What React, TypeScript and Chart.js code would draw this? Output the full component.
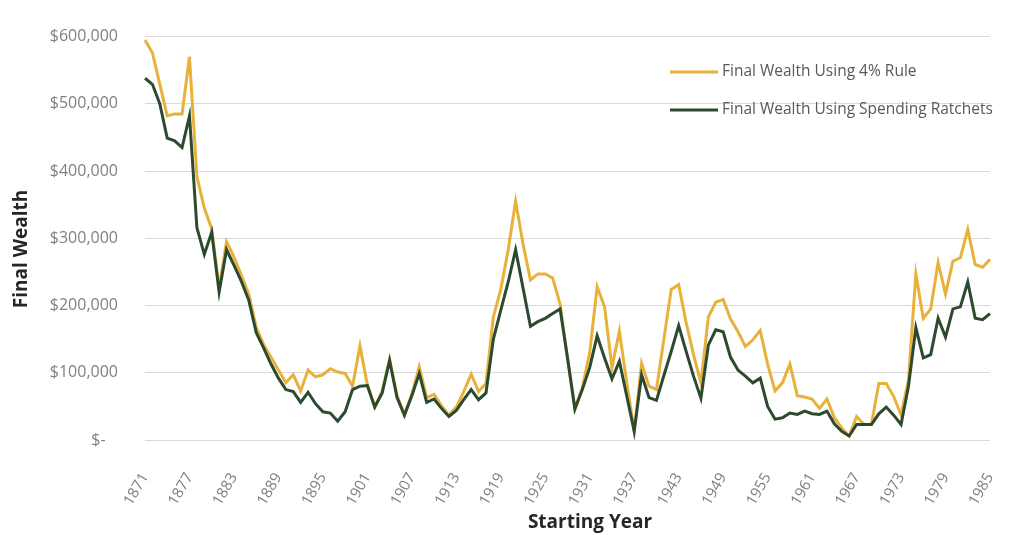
import React, { useEffect, useRef } from 'react';
import { Chart, registerables } from 'chart.js';

Chart.register(...registerables);

// ---------- data ----------
const START_YEAR = 1871;
const END_YEAR = 1985;
const years: string[] = [];
for (let y = START_YEAR; y <= END_YEAR; y++) years.push(String(y));

const xTickLabels = [
  '1871', '1877', '1883', '1889', '1895', '1901', '1907', '1913', '1919', '1925',
  '1931', '1937', '1943', '1949', '1955', '1961', '1967', '1973', '1979', '1985',
];

const yTickValues = [0, 100000, 200000, 300000, 400000, 500000, 600000];

const SERIES_LABELS = ['Final Wealth Using 4% Rule', 'Final Wealth Using Spending Ratchets'];

// final wealth, in thousands of dollars, 1871..1985
const rule4Thousands = [
  595, 576, 529, 482, 485, 485, 570, 392, 345, 314,
  225, 295, 272, 245, 217, 168, 142, 123, 104, 85,
  97, 73, 104, 94, 97, 106, 101, 99, 80, 140,
  82, 49, 73, 120, 66, 37, 68, 109, 63, 68,
  51, 37, 49, 72, 98, 72, 84, 183, 224, 283,
  355, 292, 238, 247, 247, 241, 202, 122, 46, 78,
  130, 228, 198, 108, 162, 85, 13, 114, 80, 75,
  150, 224, 231, 175, 127, 85, 183, 205, 209, 180,
  161, 139, 149, 163, 113, 73, 85, 113, 66, 64,
  61, 47, 61, 33, 18, 6, 35, 23, 23, 84,
  84, 65, 37, 90, 247, 181, 195, 264, 217, 266,
  271, 313, 261, 257, 269,
];

const ratchetThousands = [
  538, 529, 500, 449, 445, 435, 482, 316, 276, 309,
  220, 283, 260, 236, 208, 160, 137, 113, 92, 75,
  72, 56, 71, 54, 42, 40, 28, 42, 75, 80,
  81, 49, 70, 118, 63, 37, 66, 99, 56, 61,
  47, 35, 44, 60, 75, 60, 70, 150, 193, 235,
  283, 226, 169, 176, 181, 188, 195, 122, 46, 75,
  108, 155, 122, 91, 117, 65, 13, 97, 63, 59,
  96, 132, 170, 132, 95, 62, 141, 164, 161, 123,
  104, 95, 85, 92, 50, 31, 33, 40, 38, 43,
  39, 38, 43, 24, 13, 6, 23, 23, 23, 39,
  49, 37, 23, 80, 167, 122, 127, 181, 153, 195,
  198, 235, 181, 179, 188,
];

const GOLD = '#E8B13A';
const GREEN = '#2C4A2F';
const FONT = '"Open Sans", "Noto Sans", sans-serif';

function formatDollar(v: number): string {
  if (v === 0) return '$-   ';
  return '$' + v.toLocaleString('en-US');
}

const annotationsPlugin = {
  id: 'customText',
  afterDraw(chart: any) {
    const ctx = chart.ctx as CanvasRenderingContext2D;
    ctx.save();
    // y axis title
    ctx.fillStyle = '#262626';
    ctx.font = `bold 19px ${FONT}`;
    ctx.textAlign = 'center';
    ctx.textBaseline = 'middle';
    ctx.save();
    ctx.translate(22, 249);
    ctx.rotate(-Math.PI / 2);
    ctx.fillText('Final Wealth', 0, 0);
    ctx.restore();
    // x axis title
    ctx.fillText('Starting Year', 590, 523);

    // legend
    const items = [
      { color: GOLD, label: SERIES_LABELS[0], y: 72 },
      { color: GREEN, label: SERIES_LABELS[1], y: 110 },
    ];
    ctx.font = `15.5px ${FONT}`;
    ctx.textAlign = 'left';
    for (const it of items) {
      ctx.strokeStyle = it.color;
      ctx.lineWidth = 3;
      ctx.beginPath();
      ctx.moveTo(670, it.y);
      ctx.lineTo(718, it.y);
      ctx.stroke();
      ctx.fillStyle = '#595959';
      ctx.fillText(it.label, 722, it.y);
    }
    ctx.restore();
  },
};

export default function App() {
  const canvasRef = useRef<HTMLCanvasElement | null>(null);

  useEffect(() => {
    document.body.style.margin = '0';
    const canvas = canvasRef.current;
    if (!canvas) return;
    const chart = new Chart(canvas, {
      type: 'line',
      data: {
        labels: years,
        datasets: [
          {
            label: SERIES_LABELS[1],
            data: ratchetThousands.map((v) => v * 1000),
            borderColor: GREEN,
            backgroundColor: GREEN,
            borderWidth: 3,
            pointRadius: 0,
            tension: 0,
            order: 0,
          },
          {
            label: SERIES_LABELS[0],
            data: rule4Thousands.map((v) => v * 1000),
            borderColor: GOLD,
            backgroundColor: GOLD,
            borderWidth: 3,
            pointRadius: 0,
            tension: 0,
            order: 1,
          },
        ],
      },
      options: {
        animation: false,
        responsive: false,
        maintainAspectRatio: false,
        layout: { padding: { top: 16, right: 20, bottom: 0, left: 0 } },
        plugins: {
          legend: { display: false },
          tooltip: { enabled: false },
          title: { display: false },
        },
        scales: {
          x: {
            type: 'category',
            grid: { display: false },
            border: { display: false },
            afterFit: (s: any) => {
              s.height = 95;
              s.paddingRight = 0;
              s.paddingLeft = 0;
            },
            ticks: {
              autoSkip: false,
              minRotation: 60,
              maxRotation: 60,
              padding: 22,
              color: '#808080',
              font: { family: FONT, size: 15 },
              callback: (_v: any, idx: number) =>
                xTickLabels.includes(years[idx]) ? years[idx] : '',
            },
          },
          y: {
            min: 0,
            max: 600000,
            afterFit: (s: any) => {
              s.width = 145;
            },
            afterBuildTicks: (s: any) => {
              s.ticks = yTickValues.map((v) => ({ value: v }));
            },
            grid: { color: '#d9d9d9', lineWidth: 1, drawTicks: false },
            border: { display: false },
            ticks: {
              padding: 27,
              color: '#808080',
              font: { family: FONT, size: 16 },
              callback: (v: any) => formatDollar(Number(v)),
            },
          },
        },
      },
      plugins: [annotationsPlugin],
    });
    return () => chart.destroy();
  }, []);

  return (
    <div style={{ width: 1010, height: 535, position: 'relative', background: '#fff' }}>
      <canvas ref={canvasRef} width={1010} height={535} style={{ display: 'block' }} />
    </div>
  );
}
